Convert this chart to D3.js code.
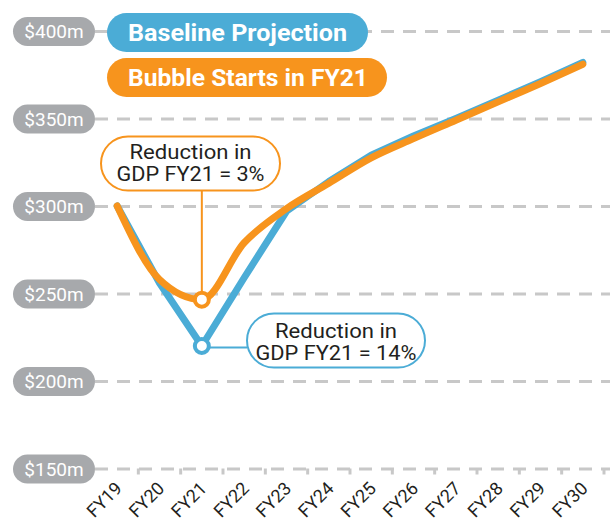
<!DOCTYPE html>
<html>
<head>
<meta charset="utf-8">
<script src="https://cdn.jsdelivr.net/npm/d3@7"></script>
<style>
  body { margin: 0; background: #fff; }
  svg { display: block; font-family: Roboto, "Open Sans", sans-serif; }
</style>
</head>
<body>
<script>
// data ($m)
let years = ["FY19", "FY20", "FY21", "FY22", "FY23", "FY24", "FY25", "FY26", "FY27", "FY28", "FY29", "FY30"];
let baseline = [300, 256, 220, 259, 297, 314, 329, 340, 350, 360.5, 371, 382];
let bubble = [300, 258, 246.5, 279, 298.5, 313, 327.5, 338.5, 349, 359.5, 370, 381];
let yTicks = [150, 200, 250, 300, 350, 400];
let legendNames = ["Baseline Projection", "Bubble Starts in FY21"];
let noteLines = [["Reduction in", "GDP FY21 = 14%"], ["Reduction in", "GDP FY21 = 3%"]];

let blue = "#4bacd6", orange = "#f7941d", grey = "#c8c8c8", pillGrey = "#a7a9ac", ink = "#231f20";

let svg = d3.select("body").append("svg")
    .attr("width", 610)
    .attr("height", 525);

let x = d3.scaleBand().domain(years).range([96, 604]).padding(0);
let cx = d => x(d) + x.bandwidth() / 2;
let y = d3.scaleLinear().domain([150, 400]).range([468.5, 31]);

// y axis: dashed gridlines + grey pills
let yAxis = svg.append("g")
    .attr("transform", "translate(95,0)")
    .call(d3.axisLeft(y).tickValues(yTicks).tickSize(-(610 - 95)).tickFormat(d => "$" + d + "m"));
yAxis.select(".domain").remove();
yAxis.selectAll(".tick line")
    .attr("stroke", grey)
    .attr("stroke-width", 3)
    .attr("stroke-dasharray", "13,9");
yAxis.selectAll(".tick").insert("rect", "text")
    .attr("x", -82).attr("y", -14.5)
    .attr("width", 82).attr("height", 29)
    .attr("rx", 14.5)
    .attr("fill", pillGrey);
yAxis.selectAll(".tick text")
    .attr("x", -41).attr("dy", "0.35em")
    .attr("text-anchor", "middle")
    .attr("fill", "#fff")
    .style("font-size", "19px")
    .style("font-family", "Roboto, sans-serif");

// x axis: labels at band centres, tick marks at band edges
let xAxis = svg.append("g")
    .attr("transform", "translate(0," + y(150) + ")")
    .call(d3.axisBottom(x).tickSize(0).tickPadding(0));
xAxis.select(".domain").remove();
xAxis.selectAll(".tick text")
    .attr("text-anchor", "end")
    .attr("fill", ink)
    .attr("dy", 0).attr("y", 0)
    .attr("transform", "translate(6,21) rotate(-45)")
    .style("font-size", "18px")
    .style("font-family", "Roboto, sans-serif");
xAxis.selectAll(".edge")
    .data(years.slice(1).map(d => x(d)).concat([x(years[years.length - 1]) + x.bandwidth()]))
    .enter().append("line")
    .attr("class", "edge")
    .attr("x1", d => d).attr("x2", d => d)
    .attr("y1", 0).attr("y2", 6)
    .attr("stroke", grey)
    .attr("stroke-width", 3);

// legend pills
let legend = svg.append("g");
let legendBoxes = [
    { w: 261, y: 13, c: blue, tl: 219 },
    { w: 280, y: 58, c: orange, tl: 240 }
];
legendNames.forEach((name, i) => {
    let b = legendBoxes[i];
    legend.append("rect")
        .attr("x", 107).attr("y", b.y)
        .attr("width", b.w).attr("height", 39)
        .attr("rx", 19.5)
        .attr("fill", b.c);
    legend.append("text")
        .attr("x", 128).attr("y", b.y + 19.5)
        .attr("dy", "0.36em")
        .attr("fill", "#fff")
        .attr("textLength", b.tl)
        .attr("lengthAdjust", "spacingAndGlyphs")
        .style("font-size", "24px")
        .style("font-weight", "bold")
        .text(name);
});

// lines
let lineBase = d3.line().x((d, i) => cx(years[i])).y(d => y(d));
let lineBubble = d3.line().x((d, i) => cx(years[i])).y(d => y(d)).curve(d3.curveMonotoneX);

svg.append("path")
    .datum(baseline)
    .attr("d", lineBase)
    .attr("fill", "none")
    .attr("stroke", blue)
    .attr("stroke-width", 7)
    .attr("stroke-linecap", "round")
    .attr("stroke-linejoin", "round");

svg.append("path")
    .datum(bubble)
    .attr("d", lineBubble)
    .attr("fill", "none")
    .attr("stroke", orange)
    .attr("stroke-width", 7)
    .attr("stroke-linecap", "round")
    .attr("stroke-linejoin", "round");

// annotations
let i21 = years.indexOf("FY21");
let px = cx("FY21");
let pyBlue = y(baseline[i21]), pyOrange = y(bubble[i21]);

let notes = svg.append("g");
// blue connector + box
notes.append("line")
    .attr("x1", px).attr("x2", 247)
    .attr("y1", pyBlue + 1.5).attr("y2", pyBlue + 1.5)
    .attr("stroke", blue).attr("stroke-width", 2);
notes.append("rect")
    .attr("x", 247).attr("y", 313.5)
    .attr("width", 178).attr("height", 54)
    .attr("rx", 27)
    .attr("fill", "#fff")
    .attr("stroke", blue).attr("stroke-width", 2);
// orange connector + box
notes.append("line")
    .attr("x1", px).attr("x2", px)
    .attr("y1", 190).attr("y2", pyOrange)
    .attr("stroke", orange).attr("stroke-width", 2);
notes.append("rect")
    .attr("x", 101).attr("y", 136.5)
    .attr("width", 179).attr("height", 54)
    .attr("rx", 27)
    .attr("fill", "#fff")
    .attr("stroke", orange).attr("stroke-width", 2);

let noteText = [
    { cx: 336, y: 338, tl: [122, 161] },
    { cx: 190.5, y: 159, tl: [122, 148] }
];
noteLines.forEach((lines, i) => {
    lines.forEach((t, j) => {
        notes.append("text")
            .attr("x", noteText[i].cx)
            .attr("y", noteText[i].y + j * 22)
            .attr("text-anchor", "middle")
            .attr("fill", ink)
            .attr("textLength", noteText[i].tl[j])
            .attr("lengthAdjust", "spacingAndGlyphs")
            .style("font-size", "20px")
            .text(t);
    });
});

// circles on FY21 points
notes.append("circle")
    .attr("cx", px).attr("cy", pyBlue).attr("r", 7)
    .attr("fill", "#fff").attr("stroke", blue).attr("stroke-width", 4);
notes.append("circle")
    .attr("cx", px).attr("cy", pyOrange).attr("r", 7)
    .attr("fill", "#fff").attr("stroke", orange).attr("stroke-width", 4);
</script>
</body>
</html>
